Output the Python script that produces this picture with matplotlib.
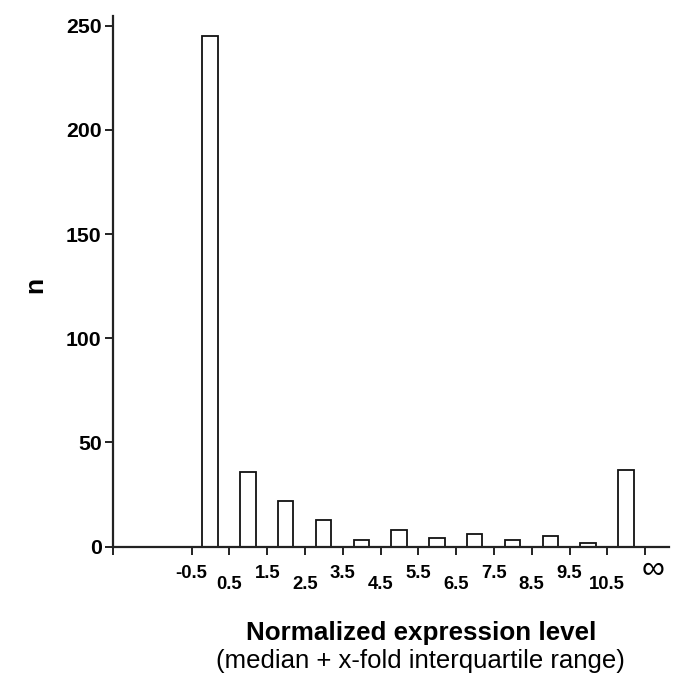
import numpy as np
import matplotlib.pyplot as plt

plt.rcParams['font.family'] = ['Liberation Sans', 'DejaVu Sans']

# bin edges shown under the axis, and counts per bin
edge_labels = ["-0.5", "0.5", "1.5", "2.5", "3.5", "4.5", "5.5",
               "6.5", "7.5", "8.5", "9.5", "10.5", "\u221e"]
counts = [245, 36, 22, 13, 3, 8, 4, 6, 3, 5, 2, 37]

fig = plt.figure(figsize=(6.85, 6.96), dpi=100)
ax = fig.add_axes([0.1645, 0.2145, 0.812, 0.763])

edges = np.arange(len(edge_labels))
centers = edges[:-1] + 0.49
ax.bar(centers, counts, width=0.41, color="white", edgecolor="#111111",
       linewidth=1.3)

xmin, xmax = -2.09, 12.63
ax.set_xlim(xmin, xmax)
ax.set_ylim(0, 254.8)

for side in ["top", "right"]:
    ax.spines[side].set_visible(False)
for side in ["left", "bottom"]:
    ax.spines[side].set_linewidth(1.6)
    ax.spines[side].set_color("#222222")

ax.set_yticks([0, 50, 100, 150, 200, 250])
ax.tick_params(axis="y", length=5.5, width=1.4, pad=2.5, labelsize=15.3,
               color="#222222")
for lab in ax.get_yticklabels():
    lab.set_fontweight("bold")

# last edge label (infinity) is drawn separately, a little to the right
ax.set_xticks([xmin] + list(edges))
ax.set_xticklabels([""] + edge_labels[:-1] + [""])
ax.tick_params(axis="x", length=5.8, width=1.4, labelsize=13.3,
               color="#222222")
ticks = ax.xaxis.get_major_ticks()
for i, tick in enumerate(ticks[1:-1]):
    tick.label1.set_fontweight("bold")
    tick.set_pad(7.5 if i % 2 == 0 else 15)

ax.annotate(edge_labels[-1], xy=(edges[-1], 0),
            xycoords=("data", "axes fraction"),
            xytext=(6, -16.5), textcoords="offset points",
            ha="center", va="center", fontsize=23)

fig.text(35 / 685, 1 - 285 / 696, "n", rotation=90, ha="center",
         va="center", fontsize=19, fontweight="bold")
fig.text(421 / 685, 1 - 640 / 696, "Normalized expression level",
         ha="center", va="baseline", fontsize=18.7, fontweight="bold")
fig.text(420 / 685, 1 - 668 / 696, "(median + x-fold interquartile range)",
         ha="center", va="baseline", fontsize=18.5)

fig.savefig("out.png", dpi=100)
